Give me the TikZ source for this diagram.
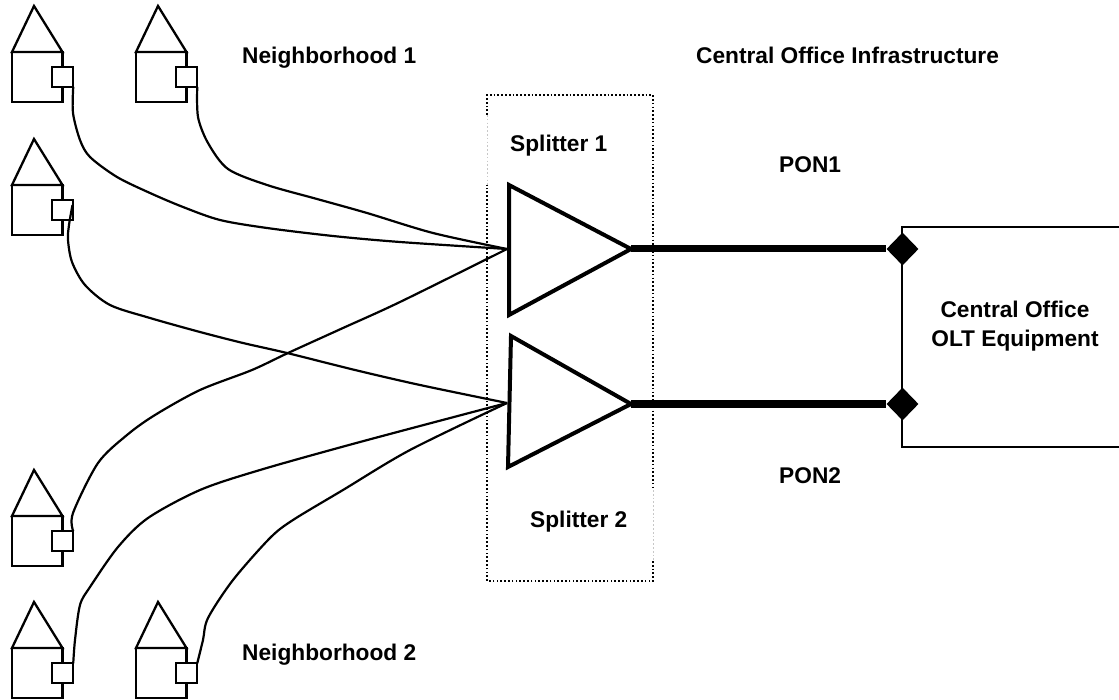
\documentclass[tikz,border=0pt]{standalone}
\usepackage{fontspec}
\setmainfont{Liberation Sans}
\usetikzlibrary{shapes.geometric}
\tikzset{
 x=1pt,y=-1pt,
 lbl/.style={font=\bfseries\fontsize{22.7}{29}\selectfont,align=center,inner sep=0pt},
 wire/.style={line width=2.2pt,line join=round,smooth,tension=0.5},
 house/.style={line width=2.3pt,line join=miter},
 modem/.style={draw,line width=2pt,fill=white,minimum width=21.5pt,minimum height=19.5pt,inner sep=0pt,outer sep=0pt},
 tri/.style={line width=4pt,line join=miter,fill=white},
 trunk/.style={line width=7pt},
 port/.style={diamond,fill=black,minimum width=32pt,minimum height=33pt,inner sep=0pt},
 olt/.style={line width=2pt},
 dots/.style={line width=1.6pt,dash pattern=on 1.7pt off 2.1pt},
 fadedots/.style={line width=1pt,dash pattern=on 1.7pt off 2.1pt,black!22}
}
\newcommand{\hut}[3]{% name, x, y (apex)
 \draw[house] (#2,#3) -- (#2+28.5,#3+46) -- (#2-22,#3+46) -- cycle;
 \draw[house] (#2-22,#3+46) rectangle (#2+28.5,#3+96);
 \node[modem] (#1) at (#2+28.5,#3+71) {};
}
\begin{document}
\begin{tikzpicture}
\useasboundingbox (0,0) rectangle (1119,700);
\fill[white] (0,0) rectangle (1119,700);
\draw[dots] (487,115) -- (487,95) -- (653,95) -- (653,490);
\draw[dots] (653,561) -- (653,581) -- (487,581) -- (487,185);
\draw[fadedots] (487,115) -- (487,185);
\draw[fadedots] (653,490) -- (653,561);
\hut{a}{34}{6}
\hut{b}{158}{6}
\hut{c}{34}{139}
\hut{d}{34}{470}
\hut{e}{34}{602}
\hut{f}{158}{602}
\coordinate (s1) at (507,249);
\coordinate (s2) at (507,403);
\coordinate (cw) at (72.5,205);
\draw[wire] plot coordinates {(a.south east) (73,113) (80,140) (90,157) (117,177) (150,193) (183,207) (220,220) (267,228) (333,236) (400,242) (s1)};
\draw[wire] plot coordinates {(b.south east) (198,117) (208,143) (228,169) (267,185) (317,199) (367,213) (433,233) (s1)};
\draw[wire] plot coordinates {(cw) (69,225) (68,240) (72,262) (85,285) (110,305) (150,318) (200,332) (243,343) (287,353) (355,370) (420,385) (s2)};
\draw[wire] plot coordinates {(d.north east) (73,513) (98,463) (127,435) (155,415) (200,390) (252,370) (288,353) (343,328) (400,302) (s1)};
\draw[wire] plot coordinates {(e.north east) (75,640) (80,605) (90,587) (118,547) (148,518) (200,490) (260,470) (360,442) (s2)};
\draw[wire] plot coordinates {(f.north east) (203,640) (208,618) (233,580) (270,538) (293,520) (343,490) (410,450) (s2)};
\coordinate (t1a) at (509,185); \coordinate (t1b) at (509,315); \coordinate (t1c) at (631,249);
\coordinate (t2a) at (511,336); \coordinate (t2b) at (508,467); \coordinate (t2c) at (631,404);
\draw[tri] (t1a) -- (t1c) -- (t1b) -- cycle;
\draw[tri] (t2a) -- (t2c) -- (t2b) -- cycle;
\draw[olt] (1119,227) -- (902,227) -- (902,447) -- (1119,447);
\node[port] (p1) at (902.5,249) {};
\node[port] (p2) at (902.5,404) {};
\draw[trunk] (t1c) -- (p1);
\draw[trunk] (t2c) -- (p2);
\node[lbl,anchor=base west] at (242,64) {Neighborhood 1};
\node[lbl,anchor=base west] at (242,660) {Neighborhood 2};
\node[lbl,anchor=base west] at (696,64) {Central Office Infrastructure};
\node[lbl,anchor=base west] at (510,152) {Splitter 1};
\node[lbl,anchor=base west] at (530,527) {Splitter 2};
\node[lbl,anchor=base west] at (779,173) {PON1};
\node[lbl,anchor=base west] at (779,483) {PON2};
\node[lbl] at (1015,326) {Central Office\\OLT Equipment};
\end{tikzpicture}
\end{document}
